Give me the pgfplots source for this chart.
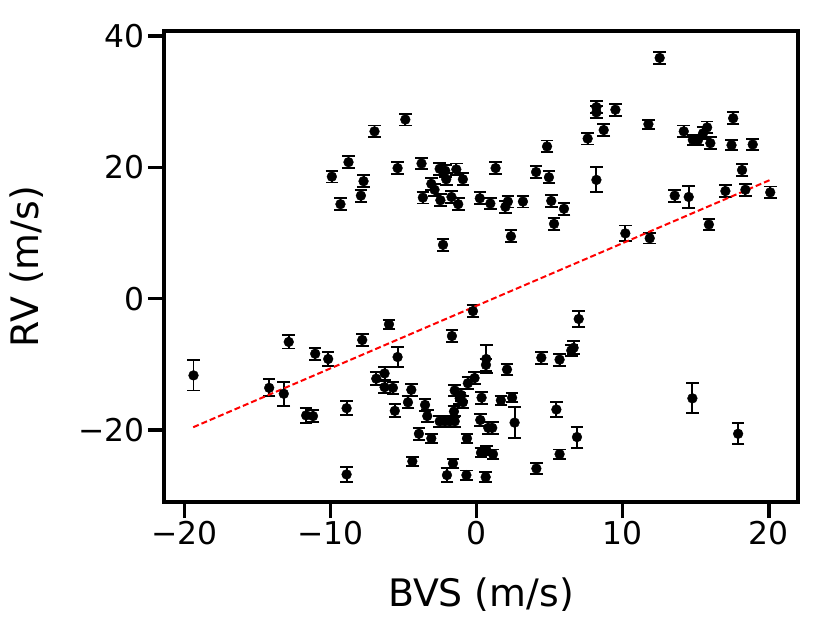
\documentclass[border=0pt]{standalone}
\usepackage{fontspec}
\setmainfont{DejaVu Sans}
\usepackage{pgfplots}
\usepackage{pgfplotstable}
\pgfplotsset{compat=1.18}
\pgfplotstableread{
x y e
-4.88 27.3 0.9
-6.99 25.5 0.9
-8.77 20.8 0.9
-9.91 18.6 0.9
-9.32 14.4 0.9
-7.74 17.9 0.9
-7.92 15.7 0.9
-5.41 19.9 0.9
-3.77 20.6 0.9
-2.53 19.8 0.9
-2.15 19.5 0.9
-1.39 19.7 0.9
-2.08 18.2 0.9
-0.94 18.2 0.9
-3.10 17.5 0.9
-2.88 16.6 0.9
-3.68 15.4 0.9
-2.48 15.0 0.9
-1.72 15.5 0.9
-1.26 14.4 0.9
0.22 15.3 0.9
0.94 14.5 0.9
1.30 19.9 0.9
1.97 14.0 0.9
2.14 14.8 0.9
3.17 14.8 0.9
-2.30 8.2 0.9
2.35 9.5 0.9
4.07 19.3 0.9
4.82 23.2 0.9
4.95 18.5 0.9
5.11 14.9 0.9
5.98 13.7 0.9
5.30 11.4 0.9
7.60 24.4 0.9
8.20 29.2 0.9
8.20 28.4 0.9
8.70 25.7 0.9
9.50 28.8 0.9
8.20 18.1 1.9
12.53 36.7 0.9
11.76 26.6 0.7
10.18 9.95 1.2
11.85 9.2 0.8
14.18 25.5 0.9
14.80 24.2 0.8
15.16 24.2 0.8
15.50 25.2 0.9
15.78 26.1 0.9
16.00 23.7 0.9
13.56 15.7 0.9
14.52 15.5 1.7
15.90 11.3 0.9
17.56 27.5 0.9
17.45 23.4 0.8
18.90 23.5 0.8
18.17 19.6 0.9
17.03 16.4 0.9
18.40 16.6 0.9
20.10 16.2 0.9
-19.38 -11.7 2.3
-14.20 -13.6 1.3
-13.20 -14.5 1.8
-12.86 -6.6 1.0
-11.67 -17.8 1.1
-11.20 -17.9 0.9
-11.05 -8.4 0.9
-10.16 -9.2 1.0
-8.90 -16.7 1.1
-8.90 -26.8 1.1
-7.83 -6.3 0.9
-6.00 -3.9 0.7
-5.41 -8.9 1.5
-6.87 -12.2 1.0
-6.30 -11.4 1.0
-6.30 -13.5 0.9
-5.73 -13.6 0.9
-5.60 -17.1 1.0
-4.70 -15.8 0.9
-4.47 -13.9 0.9
-4.40 -24.8 0.7
-3.95 -20.6 0.9
-3.53 -16.2 0.9
-3.38 -17.9 0.9
-3.10 -21.3 0.7
-2.53 -18.7 0.8
-2.19 -18.7 0.8
-1.85 -18.7 0.8
-1.50 -18.7 0.8
-2.03 -26.9 1.1
-1.62 -25.1 0.7
-1.69 -5.7 0.9
-0.66 -21.3 0.7
-0.70 -26.9 0.7
-0.25 -1.9 0.9
-1.55 -17.2 0.9
-1.50 -14.0 0.9
-1.16 -15.2 0.9
-0.94 -15.8 0.9
-1.05 -14.7 0.9
-0.60 -12.9 0.9
-0.14 -12.1 0.9
0.66 -9.2 2.2
0.64 -10.1 0.9
2.08 -10.8 0.8
0.34 -15.1 0.9
1.66 -15.5 0.7
2.43 -15.1 0.7
2.60 -18.9 2.4
0.25 -18.5 0.9
0.80 -19.7 0.9
1.07 -19.7 0.9
0.30 -23.5 0.7
0.68 -23.1 0.7
1.12 -23.7 0.7
0.62 -27.2 0.8
4.43 -9.0 0.9
5.68 -9.3 0.9
6.48 -7.9 0.8
6.64 -7.5 1.0
6.99 -3.1 1.2
5.46 -16.9 1.2
6.87 -21.1 1.6
5.68 -23.7 0.7
4.09 -25.9 0.8
14.77 -15.2 2.3
17.90 -20.6 1.6
}\datatable
\begin{document}
\begin{tikzpicture}
\useasboundingbox (-164bp,-127bp) rectangle (667bp,502bp);
\begin{axis}[
  scale only axis, width=634bp, height=471bp,
  xmin=-21.4, xmax=22.0, ymin=-31.0, ymax=40.8,
  axis line style={line width=3.8bp, black},
  tick style={line width=3.5bp, black},
  major tick length=16bp, tick align=outside,
  xtick pos=left, ytick pos=left,
  xtick={-20,-10,0,10,20}, xticklabels={−20,−10,0,10,20},
  ytick={-20,0,20,40}, yticklabels={−20,0,20,40},
  tick label style={font=\fontsize{31.5}{31.5}\selectfont},
  label style={font=\fontsize{38}{38}\selectfont},
  xlabel={BVS (m/s)}, ylabel={RV (m/s)},
  xlabel style={yshift=-26bp}, ylabel style={yshift=28bp},
]
\addplot[only marks, mark=*, mark size=4.9bp, black,
  error bars/.cd, y dir=both, y explicit,
  error bar style={line width=1.9bp, black},
  error mark options={rotate=90, mark size=6.3bp, line width=1.9bp, black}]
  table[x=x, y=y, y error=e]{\datatable};
\addplot[red, line width=2bp, dash pattern=on 6bp off 3bp] coordinates {(-19.4,-19.6) (20.1,18.1)};
\end{axis}
\end{tikzpicture}
\end{document}
